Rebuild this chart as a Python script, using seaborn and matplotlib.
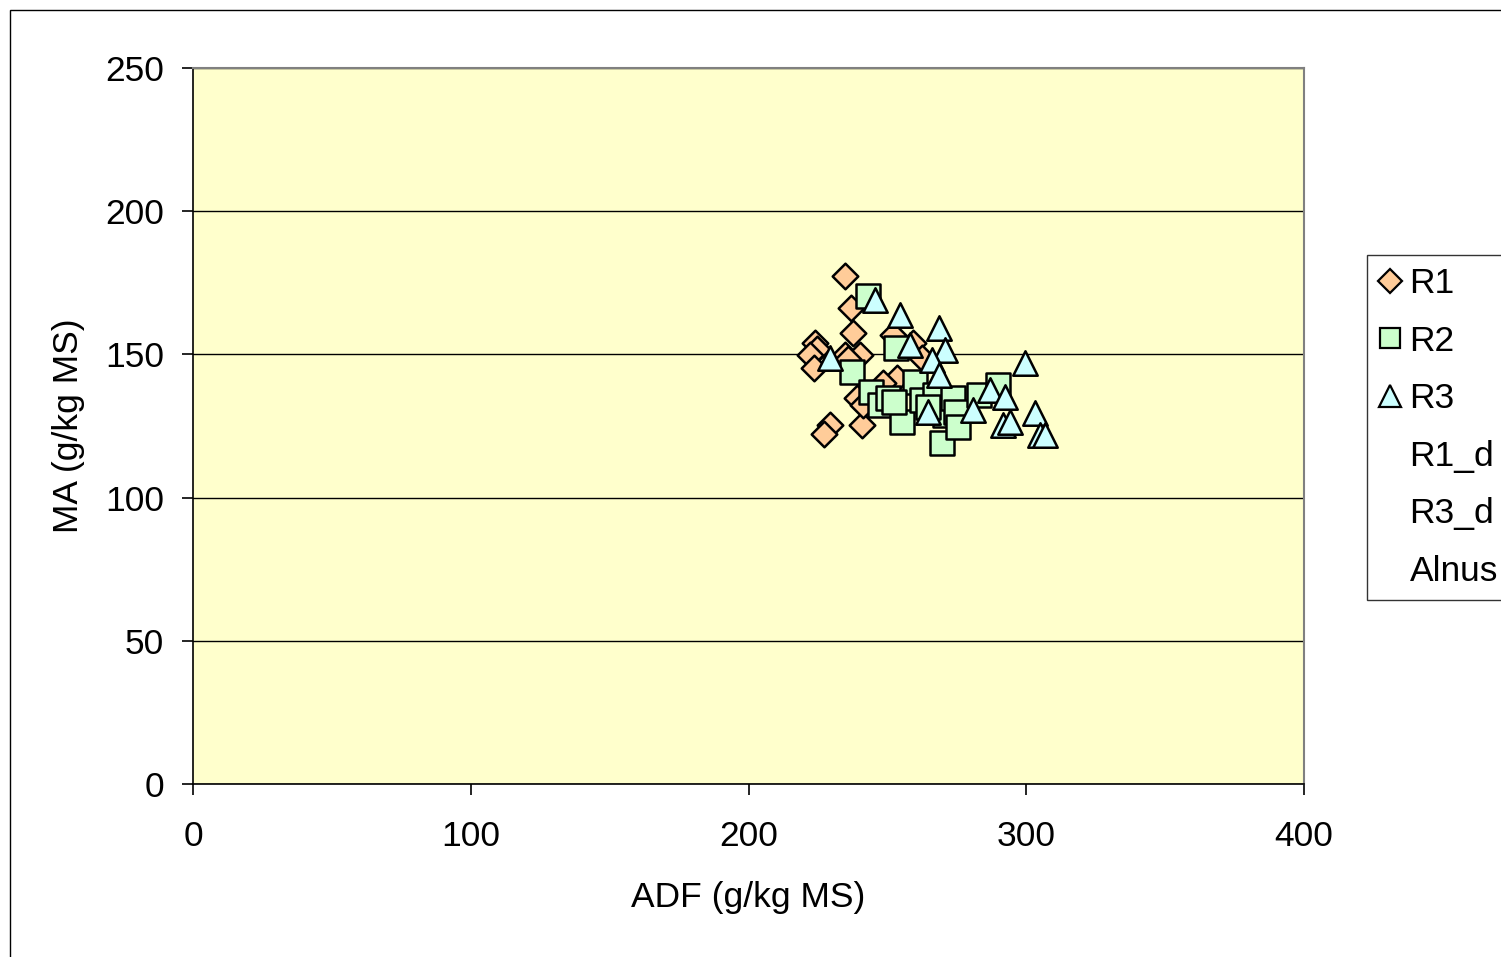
import matplotlib
matplotlib.use('Agg')
import matplotlib.pyplot as plt
import matplotlib.patches as mpatches
from matplotlib.lines import Line2D
import seaborn as sns
import pandas as pd

# ADF / MA values (g/kg MS)
r1_adf = [234.7, 236.9, 237.6, 223.9, 224.6, 222.1, 223.5, 234.7, 240.1, 229.3, 227.2, 240.9,
          239.1, 241.2, 252.0, 259.2, 262.5, 253.5, 248.4, 236.0]
r1_ma = [177.4, 166.2, 157.5, 154.0, 151.9, 149.8, 145.3, 149.8, 149.8, 125.3, 122.2, 125.3,
         134.8, 132.3, 156.8, 154.0, 148.7, 141.8, 140.0, 148.5]

r2_adf = [243.0, 253.1, 237.3, 244.1, 247.3, 250.1, 255.3, 260.0, 262.5, 267.2, 269.7, 270.7,
          273.7, 274.7, 275.4, 283.0, 289.8, 264.8, 252.5]
r2_ma = [170.4, 152.2, 143.9, 136.9, 132.3, 134.8, 126.4, 140.4, 134.1, 135.8, 119.1, 128.8,
         134.8, 129.9, 124.7, 135.8, 139.3, 131.5, 133.5]

r3_adf = [245.5, 254.5, 268.5, 258.1, 270.8, 266.2, 229.3, 268.5, 299.6, 280.9, 286.9, 292.3,
          291.6, 294.1, 303.2, 305.0, 306.7, 264.6]
r3_ma = [169.0, 163.8, 159.2, 153.3, 151.5, 148.0, 148.7, 142.8, 147.0, 130.6, 137.6, 135.1,
         125.3, 126.4, 129.5, 121.9, 121.9, 129.9]

series = ['R1', 'R2', 'R3']
legend_labels = ['R1', 'R2', 'R3', 'R1_d', 'R3_d', 'Alnus']
colors = {'R1': '#FFCC99', 'R2': '#CCFFCC', 'R3': '#CCFFFF'}
markers = {'R1': 'D', 'R2': 's', 'R3': '^'}
sizes = {'R1': 170, 'R2': 280, 'R3': 310}
leg_sizes = {'R1': 12, 'R2': 14, 'R3': 16}

df = pd.concat([
    pd.DataFrame({'ADF': r1_adf, 'MA': r1_ma, 'serie': 'R1'}),
    pd.DataFrame({'ADF': r2_adf, 'MA': r2_ma, 'serie': 'R2'}),
    pd.DataFrame({'ADF': r3_adf, 'MA': r3_ma, 'serie': 'R3'}),
])

sns.set_style('white')
plt.rcParams['font.family'] = ['Liberation Sans', 'DejaVu Sans']
plt.rcParams['text.color'] = 'black'
plt.rcParams['axes.labelcolor'] = 'black'
plt.rcParams['xtick.color'] = 'black'
plt.rcParams['ytick.color'] = 'black'

fs = 25.5

fig = plt.figure(figsize=(15.01, 9.57), dpi=100)
ax = fig.add_axes([193 / 1501, 1 - 784 / 957, (1304 - 193) / 1501, (784 - 68) / 957])
ax.set_facecolor('#FFFFCC')

for s in series:
    sub = df[df['serie'] == s]
    sns.scatterplot(data=sub, x='ADF', y='MA', marker=markers[s], color=colors[s],
                    s=sizes[s], edgecolor='black', linewidth=1.8, ax=ax, legend=False, zorder=3)

ax.set_xlim(0, 400)
ax.set_ylim(0, 250)
ax.set_xticks([0, 100, 200, 300, 400])
ax.set_yticks([0, 50, 100, 150, 200, 250])
ax.yaxis.grid(True, color='black', linewidth=1)
ax.xaxis.grid(False)
ax.set_axisbelow(True)
for side in ['top', 'right']:
    ax.spines[side].set_color('#808080')
    ax.spines[side].set_linewidth(1.5)
for side in ['left', 'bottom']:
    ax.spines[side].set_color('black')
    ax.spines[side].set_linewidth(1.2)
ax.tick_params(axis='both', direction='out', length=8, width=1.2,
               labelsize=fs, left=True, bottom=True)
ax.tick_params(axis='y', pad=13)
ax.tick_params(axis='x', pad=18)
ax.set_xlabel('ADF (g/kg MS)', fontsize=fs, labelpad=20)
ax.set_ylabel('MA (g/kg MS)', fontsize=fs, labelpad=14)

handles = []
for lab in legend_labels:
    if lab in markers:
        handles.append(Line2D([], [], linestyle='none', marker=markers[lab],
                              markerfacecolor=colors[lab], markeredgecolor='black',
                              markeredgewidth=1.6, markersize=leg_sizes[lab]))
    else:
        handles.append(Line2D([], [], linestyle='none', marker=None))
leg = fig.legend(handles, legend_labels, loc='upper left', bbox_to_anchor=(1367 / 1501, 1 - 255 / 957),
                 frameon=True, fancybox=False, edgecolor='black', fontsize=fs,
                 handlelength=0.6, handletextpad=0.25, labelspacing=0.69, borderpad=0.35,
                 borderaxespad=0)
leg.get_frame().set_linewidth(1)

fig.patches.append(mpatches.Rectangle((10 / 1501, -0.05), 1.1, 1 - 10 / 957 + 0.05,
                                      transform=fig.transFigure, fill=False,
                                      edgecolor='black', linewidth=1))

fig.savefig('out.png', dpi=100)
